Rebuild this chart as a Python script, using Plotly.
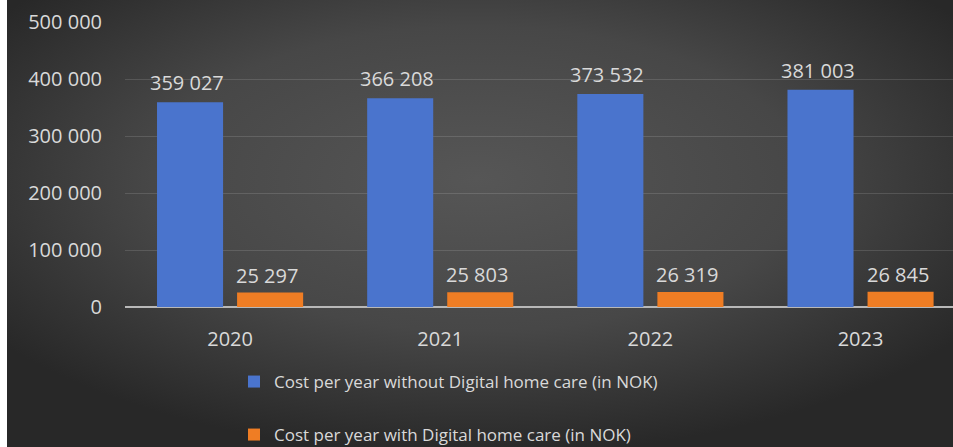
import base64
import plotly.graph_objects as go

years = ["2020", "2021", "2022", "2023"]
without_dhc = [359027, 366208, 373532, 381003]
with_dhc = [25297, 25803, 26319, 26845]
series_names = [
    "Cost per year without Digital home care (in NOK)",
    "Cost per year with Digital home care (in NOK)",
]
y_ticks = [0, 100000, 200000, 300000, 400000, 500000]

W, H = 953, 447
ML, MR, MT, MB = 125, 0, 22, 140
plot_w = W - ML - MR
plot_h = H - MT - MB

BLUE = "#4a74cd"
ORANGE = "#ef7d24"
TXT = "#d9d9d9"
FONT = "Open Sans"


def fmt(v):
    return f"{v:,}".replace(",", " ")


def py(px):
    return (H - MB - px) / plot_h


svg = (
    '<svg xmlns="http://www.w3.org/2000/svg" width="953" height="447" '
    'viewBox="0 0 953 447" preserveAspectRatio="none">'
    '<defs><radialGradient id="g" cx="50%" cy="40%" r="62%">'
    '<stop offset="0" stop-color="#565656"/>'
    '<stop offset="0.55" stop-color="#474747"/>'
    '<stop offset="1" stop-color="#282828"/>'
    '</radialGradient></defs>'
    '<rect width="953" height="447" fill="url(#g)"/>'
    '<rect width="7" height="447" fill="#ffffff"/></svg>'
)
src = "data:image/svg+xml;base64," + base64.b64encode(svg.encode()).decode()

fig = go.Figure()
fig.add_trace(go.Bar(x=years, y=without_dhc, name=series_names[0],
                     marker=dict(color=BLUE, line=dict(width=0)),
                     legend="legend"))
fig.add_trace(go.Bar(x=years, y=with_dhc, name=series_names[1],
                     marker=dict(color=ORANGE, line=dict(width=0)),
                     legend="legend2"))

annotations = []
for i, (a, b) in enumerate(zip(without_dhc, with_dhc)):
    annotations.append(dict(x=i, y=a, text=fmt(a), showarrow=False,
                            xref="x", yref="y", yanchor="bottom",
                            xshift=-43, yshift=4,
                            font=dict(family=FONT, size=20, color=TXT)))
    annotations.append(dict(x=i, y=b, text=fmt(b), showarrow=False,
                            xref="x", yref="y", yanchor="bottom",
                            xshift=37, yshift=2,
                            font=dict(family=FONT, size=20, color=TXT)))

legend_common = dict(orientation="v", x=(234 - ML) / plot_w, xanchor="left",
                     yanchor="middle",
                     font=dict(family=FONT, size=17, color=TXT),
                     bgcolor="rgba(0,0,0,0)", itemwidth=30)

fig.update_layout(
    width=W, height=H,
    margin=dict(l=ML, r=MR, t=MT, b=MB, pad=0, autoexpand=False),
    paper_bgcolor="#2c2c2c",
    plot_bgcolor="rgba(0,0,0,0)",
    barmode="group",
    bargap=0.238,
    bargroupgap=0.175,
    separators=". ",
    font=dict(family=FONT, size=20, color=TXT),
    showlegend=True,
    legend=dict(legend_common, y=py(382)),
    legend2=dict(legend_common, y=py(435)),
    xaxis=dict(type="category", range=[-0.5, 3.44], showgrid=False,
               showline=False, zeroline=False, ticks="", ticklabelstandoff=18,
               tickfont=dict(family=FONT, size=20, color=TXT)),
    yaxis=dict(range=[0, 500000], tickvals=y_ticks, tickformat=",d",
               showgrid=True, gridcolor="rgba(255,255,255,0.13)", gridwidth=1,
               zeroline=True, zerolinecolor="#b8b8b8", zerolinewidth=1.5,
               showline=False, ticks="", ticklabelstandoff=22,
               tickfont=dict(family=FONT, size=20, color=TXT)),
    annotations=annotations,
    images=[dict(source=src, xref="paper", yref="paper",
                 x=-ML / plot_w, y=py(0),
                 sizex=W / plot_w, sizey=H / plot_h,
                 xanchor="left", yanchor="top", sizing="stretch",
                 layer="below")],
)

fig.write_html("out.html")
